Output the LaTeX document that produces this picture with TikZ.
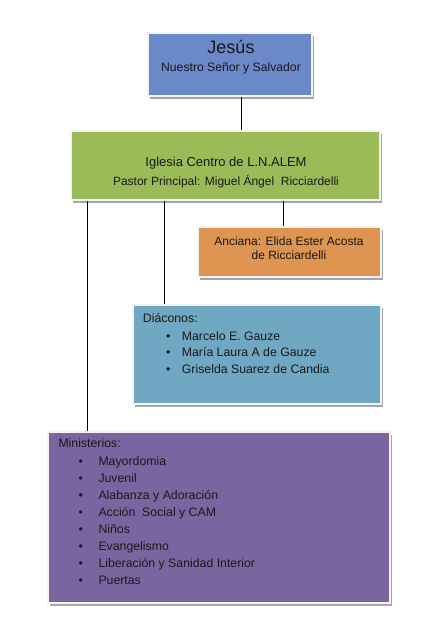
\documentclass[tikz,border=0pt]{standalone}
\usepackage{fontspec}
\setmainfont{Liberation Sans}
\usetikzlibrary{shadows}
\definecolor{cjesus}{RGB}{107,136,200}
\definecolor{cgreen}{RGB}{155,187,89}
\definecolor{corange}{RGB}{223,149,82}
\definecolor{cblue}{RGB}{112,168,196}
\definecolor{cpurple}{RGB}{123,101,160}
\definecolor{cborder}{RGB}{244,244,244}
\tikzset{
  orgbox/.style={rectangle, inner sep=0pt, draw=cborder, line width=2.5pt,
    drop shadow={shadow xshift=1.5pt, shadow yshift=-2.5pt, fill=black!35, opacity=1}},
  link/.style={draw=black, line width=0.8pt},
  ctext/.style={anchor=base, inner sep=0pt, text=black!90},
  ltext/.style={anchor=base west, inner sep=0pt, text=black!90},
  btext/.style={anchor=base, inner sep=0pt, text=black!90},
  body/.style={font=\fontsize{12.3}{14}\selectfont}
}
\begin{document}
\begin{tikzpicture}[x=1pt,y=-1pt]
\useasboundingbox (0,0) rectangle (441,635);
% boxes
\node[orgbox, fill=cjesus, minimum width=164pt, minimum height=63pt] (jesus) at (230,64.5) {};
\node[orgbox, fill=cgreen, minimum width=309pt, minimum height=69pt] (iglesia) at (225.5,165.5) {};
\node[orgbox, fill=corange, minimum width=183pt, minimum height=50pt] (anciana) at (289.5,252) {};
\node[orgbox, fill=cblue, minimum width=248pt, minimum height=99pt] (diaconos) at (257,354.5) {};
\node[orgbox, fill=cpurple, minimum width=342pt, minimum height=171pt] (ministerios) at (219,517.5) {};
% connectors
\draw[link] ([xshift=11pt]jesus.south) -- ([xshift=11pt]jesus.south |- iglesia.north);
\draw[link] ([xshift=-6.5pt]anciana.north |- iglesia.south) -- ([xshift=-6.5pt]anciana.north);
\draw[link] ([xshift=33pt]diaconos.north west |- iglesia.south) -- ([xshift=33pt]diaconos.north west);
\draw[link] ([xshift=41pt]ministerios.north west |- iglesia.south) -- ([xshift=41pt]ministerios.north west);
% texts
\node[ctext, font=\fontsize{18}{20}\selectfont] (t1) at (231,53.3) {Jesús};
\node[ctext, font=\fontsize{12.2}{14}\selectfont] (t2) at (231,71.7) {Nuestro Señor y Salvador};
\node[ctext, font=\fontsize{13}{15}\selectfont] (t3) at (226,166.5) {Iglesia Centro de L.N.ALEM};
\node[ctext, font=\fontsize{12}{14}\selectfont] (t4) at (226,185.5) {Pastor Principal: Miguel Ángel\ \ Ricciardelli};
\node[ctext, font=\fontsize{12}{14}\selectfont] (t5) at (289,245) {Anciana: Elida Ester Acosta};
\node[ctext, font=\fontsize{12}{14}\selectfont] (t6) at (289,259.5) {de Ricciardelli};
% diaconos
\node[ltext, body] (d0) at (142.7,322.3) {Diáconos:};
\node[btext, body] (db1) at (168.3,340) {•};
\node[ltext, body] (d1) at (181.7,340) {Marcelo E. Gauze};
\node[btext, body] (db2) at (168.3,356.7) {•};
\node[ltext, body] (d2) at (181.7,356.7) {María Laura A de Gauze};
\node[btext, body] (db3) at (168.3,373.3) {•};
\node[ltext, body] (d3) at (181.7,373.3) {Griselda Suarez de Candia};
% ministerios
\node[ltext, body] (m0) at (58.3,447.3) {Ministerios:};
\foreach \i/\t in {0/Mayordomia,1/Juvenil,2/Alabanza y Adoración,3/Acción\ \ Social y CAM,4/Niños,5/Evangelismo,6/Liberación y Sanidad Interior,7/Puertas}{
  \node[btext, body] (mb\i) at (80.7,465+17*\i) {•};
  \node[ltext, body] (m\i) at (98.3,465+17*\i) {\t};
}
\end{tikzpicture}
\end{document}
